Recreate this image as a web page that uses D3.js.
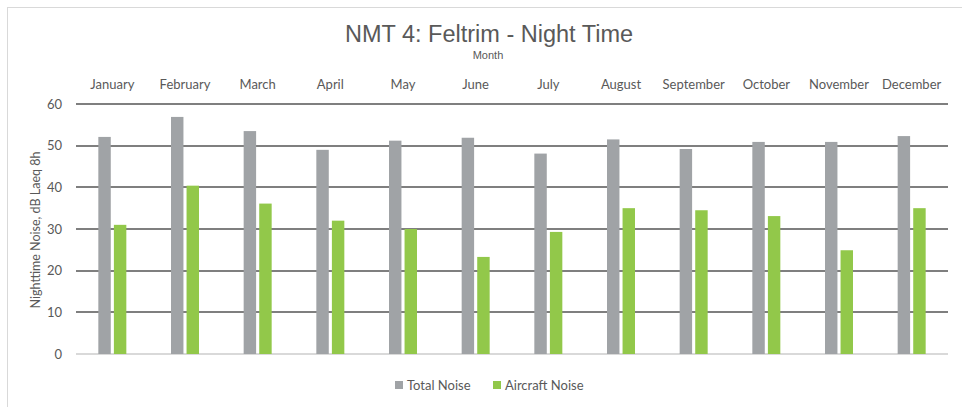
<!DOCTYPE html>
<html lang="en">
<head>
<meta charset="UTF-8">
<title>NMT 4: Feltrim - Night Time</title>
<script src="https://d3js.org/d3.v7.min.js"></script>
<style>
  body { margin: 0; background: #fff; }
  svg { display: block; }
</style>
</head>
<body>
<div id="chart"></div>
<script>
// Data
const months = ["January", "February", "March", "April", "May", "June",
                "July", "August", "September", "October", "November", "December"];
const totalNoise = [52.1, 56.9, 53.5, 49.0, 51.2, 51.9, 48.1, 51.5, 49.2, 50.9, 50.9, 52.3];
const aircraftNoise = [31.0, 40.4, 36.1, 32.0, 30.0, 23.3, 29.3, 35.0, 34.5, 33.1, 24.9, 35.0];
const seriesNames = ["Total Noise", "Aircraft Noise"];
const yTicks = [0, 10, 20, 30, 40, 50, 60];

const width = 962, height = 407;
const margin = { top: 104, right: 14, bottom: 53, left: 76 };
const colors = { "Total Noise": "#a0a3a6", "Aircraft Noise": "#92c84a" };
const textColor = "#595959";

const svg = d3.select("#chart").append("svg")
    .attr("width", width)
    .attr("height", height);

// chart frame
svg.append("rect")
    .attr("x", 7.5).attr("y", 7.5)
    .attr("width", width + 10).attr("height", height + 10)
    .attr("fill", "none")
    .attr("stroke", "#d9d9d9");

const x = d3.scaleBand()
    .domain(months)
    .range([margin.left, width - margin.right]);

const xInner = d3.scaleBand()
    .domain(seriesNames)
    .range([0, 28])
    .paddingInner(0.2);

const y = d3.scaleLinear()
    .domain([0, 60])
    .range([height - margin.bottom, margin.top]);

// gridlines
svg.append("g")
    .selectAll("line")
    .data(yTicks)
    .join("line")
    .attr("x1", margin.left)
    .attr("x2", width - margin.right)
    .attr("y1", d => Math.round(y(d)))
    .attr("y2", d => Math.round(y(d)))
    .attr("stroke", d => d === 0 ? "#d9d9d9" : "#7f7f7f")
    .attr("stroke-width", 2);

// y tick labels
svg.append("g")
    .selectAll("text")
    .data(yTicks)
    .join("text")
    .attr("x", 62)
    .attr("y", d => y(d))
    .attr("dy", "0.35em")
    .attr("text-anchor", "end")
    .attr("font-family", "Lato, 'Open Sans', sans-serif")
    .attr("font-size", 13)
    .attr("fill", textColor)
    .text(d => d);

// bars
const groups = svg.append("g")
    .selectAll("g")
    .data(months)
    .join("g")
    .attr("transform", d => `translate(${x(d) + (x.bandwidth() - 28) / 2},0)`);

groups.selectAll("rect")
    .data((d, i) => [
        { key: "Total Noise", value: totalNoise[i] },
        { key: "Aircraft Noise", value: aircraftNoise[i] }
    ])
    .join("rect")
    .attr("x", d => xInner(d.key))
    .attr("width", xInner.bandwidth())
    .attr("y", d => y(d.value))
    .attr("height", d => y(0) - y(d.value))
    .attr("fill", d => colors[d.key]);

// month labels on top
svg.append("g")
    .selectAll("text")
    .data(months)
    .join("text")
    .attr("x", d => x(d) + x.bandwidth() / 2)
    .attr("y", 89)
    .attr("text-anchor", "middle")
    .attr("font-family", "Lato, 'Open Sans', sans-serif")
    .attr("font-size", 13)
    .attr("fill", textColor)
    .text(d => d);

// title
svg.append("text")
    .attr("x", 489)
    .attr("y", 42)
    .attr("text-anchor", "middle")
    .attr("font-family", "'Liberation Sans', Arial, sans-serif")
    .attr("font-size", 23.5)
    .attr("fill", textColor)
    .text("NMT 4: Feltrim - Night Time");

svg.append("text")
    .attr("x", 488)
    .attr("y", 59)
    .attr("text-anchor", "middle")
    .attr("font-family", "'Liberation Sans', Arial, sans-serif")
    .attr("font-size", 11)
    .attr("fill", textColor)
    .text("Month");

// y axis title
svg.append("text")
    .attr("transform", "translate(40,230) rotate(-90)")
    .attr("text-anchor", "middle")
    .attr("font-family", "Lato, 'Open Sans', sans-serif")
    .attr("font-size", 12.5)
    .attr("fill", textColor)
    .text("Nighttime Noise, dB Laeq 8h");

// legend
const legend = svg.append("g")
    .selectAll("g")
    .data(seriesNames)
    .join("g")
    .attr("transform", (d, i) => `translate(${i === 0 ? 395 : 493},385)`);

legend.append("rect")
    .attr("x", 0).attr("y", -4)
    .attr("width", 8).attr("height", 8)
    .attr("fill", d => colors[d]);

legend.append("text")
    .attr("x", 12)
    .attr("dy", "0.35em")
    .attr("font-family", "Lato, 'Open Sans', sans-serif")
    .attr("font-size", 13)
    .attr("fill", textColor)
    .text(d => d);
</script>
</body>
</html>
